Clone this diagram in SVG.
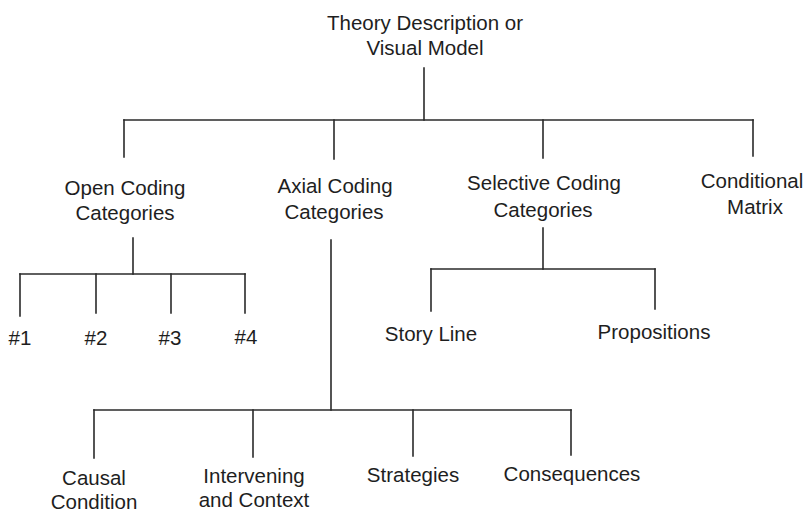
<svg xmlns="http://www.w3.org/2000/svg" width="806" height="513" viewBox="0 0 806 513">
<style>
text{font-family:"Liberation Sans",Arial,sans-serif;font-size:20.5px;fill:#1e1e1e;text-anchor:middle}
.c line{stroke:#2a2a2a;stroke-width:1.6;stroke-linecap:square}
</style>
<rect width="806" height="513" fill="#fff"/>
<g class="c" id="connectors">
<line x1="424" y1="68" x2="424" y2="120"/>
<line x1="124" y1="120" x2="753" y2="120"/>
<line x1="124" y1="120" x2="124" y2="157"/>
<line x1="334" y1="120" x2="334" y2="159"/>
<line x1="543" y1="120" x2="543" y2="158"/>
<line x1="753" y1="120" x2="753" y2="156"/>
<line x1="133" y1="238" x2="133" y2="274"/>
<line x1="20" y1="274" x2="245" y2="274"/>
<line x1="20" y1="274" x2="20" y2="316"/>
<line x1="96" y1="274" x2="96" y2="313"/>
<line x1="171" y1="274" x2="171" y2="313"/>
<line x1="245" y1="274" x2="245" y2="313"/>
<line x1="543" y1="228" x2="543" y2="269"/>
<line x1="431" y1="269" x2="655" y2="269"/>
<line x1="431" y1="269" x2="431" y2="311"/>
<line x1="655" y1="269" x2="655" y2="309"/>
<line x1="331" y1="240" x2="331" y2="410"/>
<line x1="94" y1="410" x2="571" y2="410"/>
<line x1="94" y1="410" x2="94" y2="458"/>
<line x1="253" y1="410" x2="253" y2="457"/>
<line x1="413" y1="410" x2="413" y2="456"/>
<line x1="571" y1="410" x2="571" y2="455"/>
</g>
<g id="theory"><text x="425" y="30">Theory Description or</text><text x="425" y="55">Visual Model</text></g>
<g id="open"><text x="125" y="195">Open Coding</text><text x="125" y="220">Categories</text></g>
<g id="axial"><text x="335" y="193">Axial Coding</text><text x="334" y="219">Categories</text></g>
<g id="selective"><text x="544" y="190">Selective Coding</text><text x="543" y="217">Categories</text></g>
<g id="conditional"><text x="752" y="188">Conditional</text><text x="755" y="214">Matrix</text></g>
<g id="n1"><text x="20" y="345">#1</text></g>
<g id="n2"><text x="96" y="345">#2</text></g>
<g id="n3"><text x="170" y="345">#3</text></g>
<g id="n4"><text x="246" y="344">#4</text></g>
<g id="storyline"><text x="431" y="341">Story Line</text></g>
<g id="propositions"><text x="654" y="339">Propositions</text></g>
<g id="causal"><text x="94" y="485">Causal</text><text x="94" y="509">Condition</text></g>
<g id="intervening"><text x="254" y="483">Intervening</text><text x="254" y="507">and Context</text></g>
<g id="strategies"><text x="413" y="482">Strategies</text></g>
<g id="consequences"><text x="572" y="481">Consequences</text></g>
</svg>
